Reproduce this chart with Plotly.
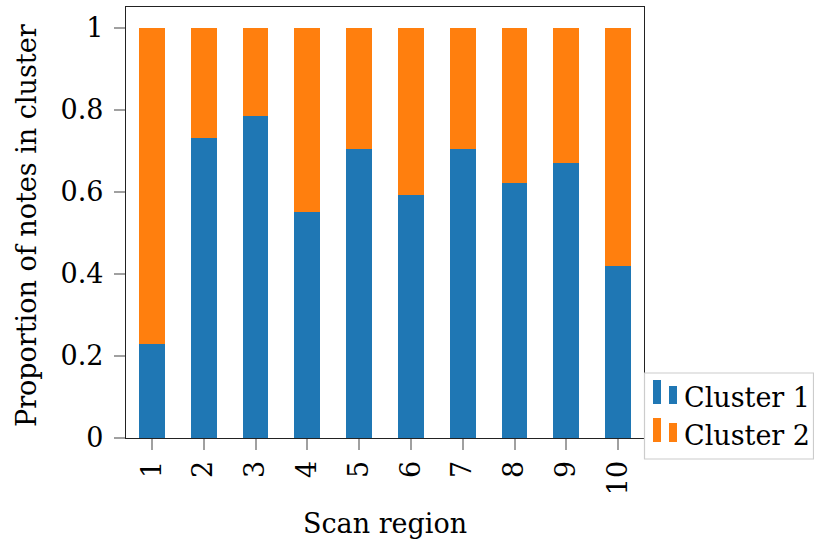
import plotly.graph_objects as go

# Share of notes falling in each cluster, per scan region
regions = [1, 2, 3, 4, 5, 6, 7, 8, 9, 10]
region_labels = ["1", "2", "3", "4", "5", "6", "7", "8", "9", "10"]
cluster1 = [0.229, 0.732, 0.785, 0.551, 0.705, 0.592, 0.705, 0.622, 0.671, 0.419]
cluster2 = [round(1 - v, 3) for v in cluster1]
series_names = ["Cluster 1", "Cluster 2"]
y_ticks = [0, 0.2, 0.4, 0.6, 0.8, 1.0]
y_tick_labels = ["0", "0.2", "0.4", "0.6", "0.8", "1"]

BLUE = "#1f77b4"
ORANGE = "#ff7f0e"
FONT = "DejaVu Serif"
FS = 27

# figure geometry (pixels)
FIG_W, FIG_H = 814, 546
L, R, T, B = 126, 170, 7, 108
PW, PH = FIG_W - L - R, FIG_H - T - B


def px(x):
    return (x - L) / PW


def py(y):
    return (FIG_H - B - y) / PH


fig = go.Figure()
fig.add_trace(go.Bar(x=regions, y=cluster1, name=series_names[0],
                     marker=dict(color=BLUE, line=dict(width=0)), width=0.5))
fig.add_trace(go.Bar(x=regions, y=cluster2, name=series_names[1],
                     marker=dict(color=ORANGE, line=dict(width=0)), width=0.5))

shapes = []
annotations = []

# legend box with paired-bar symbols
shapes.append(dict(type="rect", xref="paper", yref="paper",
                   x0=px(644.5), x1=px(813.5), y0=py(459), y1=py(373),
                   line=dict(color="#cccccc", width=1.2), fillcolor="white", layer="above"))
legend_rows = [(series_names[0], BLUE, 380, 386, 404, 397),
               (series_names[1], ORANGE, 418, 423, 442, 435)]
for name, col, top_a, top_b, bottom, ty in legend_rows:
    shapes.append(dict(type="rect", xref="paper", yref="paper",
                       x0=px(653), x1=px(661), y0=py(bottom), y1=py(top_a),
                       line=dict(width=0), fillcolor=col, layer="above"))
    shapes.append(dict(type="rect", xref="paper", yref="paper",
                       x0=px(669), x1=px(677), y0=py(bottom), y1=py(top_b),
                       line=dict(width=0), fillcolor=col, layer="above"))
    annotations.append(dict(text=name, xref="paper", yref="paper",
                            x=px(682), y=py(ty), xanchor="left", yanchor="middle",
                            showarrow=False, font=dict(family=FONT, size=FS, color="black")))

# axis titles
annotations.append(dict(text="Scan region", xref="paper", yref="paper",
                        x=px(385), y=py(523), xanchor="center", yanchor="middle",
                        showarrow=False, font=dict(family=FONT, size=FS, color="black")))
annotations.append(dict(text="Proportion of notes in cluster", xref="paper", yref="paper",
                        x=px(27), y=py(226), xanchor="center", yanchor="middle", textangle=-90,
                        showarrow=False, font=dict(family=FONT, size=FS, color="black")))

fig.update_layout(
    width=FIG_W, height=FIG_H,
    margin=dict(l=L, r=R, t=T, b=B, pad=0),
    barmode="stack",
    plot_bgcolor="white", paper_bgcolor="white",
    showlegend=False,
    font=dict(family=FONT, size=FS, color="black"),
    shapes=shapes,
    annotations=annotations,
)
fig.update_xaxes(range=[0.5, 10.5], tickmode="array", tickvals=regions, ticktext=region_labels,
                 tickangle=-90, ticks="outside", ticklen=11, tickwidth=1.5, tickcolor="#a0a0a0",
                 showline=True, linecolor="#222222", linewidth=1.2, mirror=True,
                 showgrid=False, zeroline=False, ticklabelstandoff=0,
                 tickfont=dict(family=FONT, size=FS, color="black"))
fig.update_yaxes(range=[0, 1.05], tickmode="array", tickvals=y_ticks, ticktext=y_tick_labels,
                 ticks="outside", ticklen=11, tickwidth=1.5, tickcolor="#a0a0a0",
                 showline=True, linecolor="#222222", linewidth=1.2, mirror=True,
                 showgrid=False, zeroline=False, ticklabelstandoff=5,
                 tickfont=dict(family=FONT, size=FS, color="black"))

fig.write_html("out.html")
